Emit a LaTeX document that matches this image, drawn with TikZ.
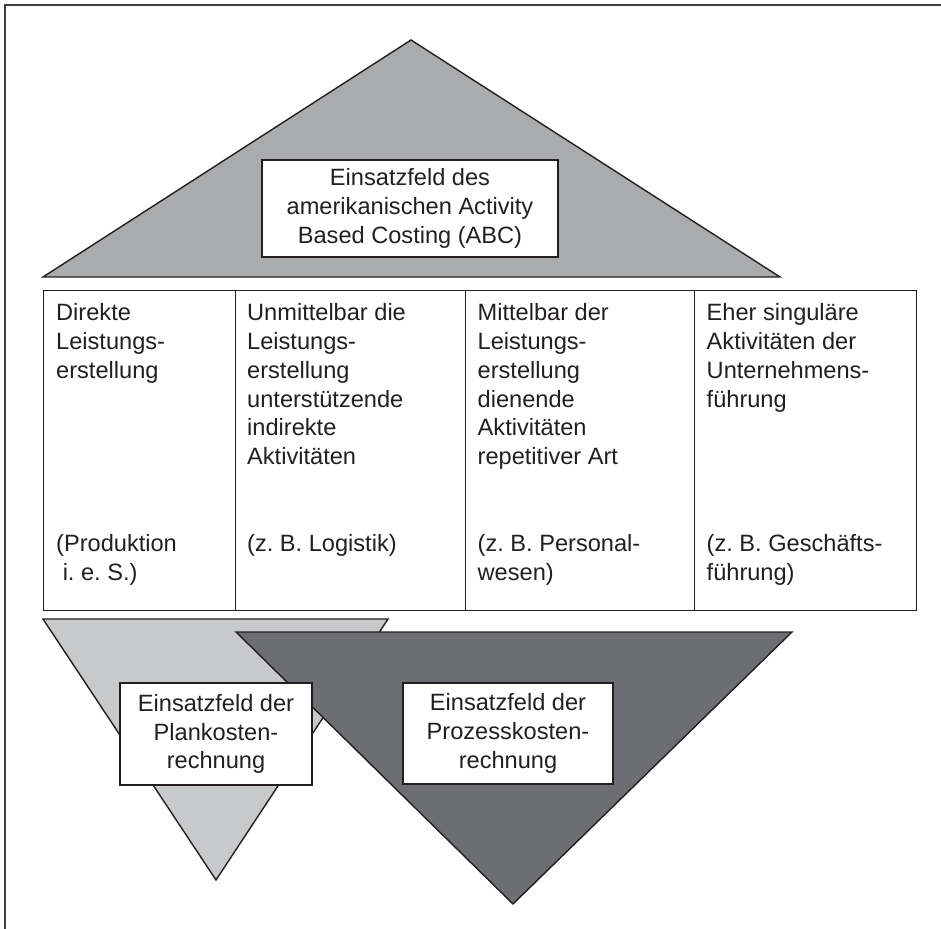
\documentclass[tikz,border=0pt]{standalone}
\usepackage{fontspec}
\setmainfont{Liberation Sans}
\usepackage{tikz}
\usetikzlibrary{positioning}
\definecolor{tinte}{RGB}{35, 31, 32}
\definecolor{dachgrau}{RGB}{169, 171, 173}
\definecolor{hellgrau}{RGB}{200, 201, 203}
\definecolor{dunkelgrau}{RGB}{109, 110, 115}
\frenchspacing

\begin{document}
\begin{tikzpicture}[x=0.5pt, y=-0.5pt, line width=0.7pt, color=tinte,
    every node/.style={font=\fontsize{11.8}{14.4}\selectfont},
    feldbox/.style={draw=tinte, fill=white, inner sep=0pt, align=center},
    spalte/.style={draw=tinte, fill=white, inner sep=0pt, minimum height=160pt, anchor=north west},
    spaltentext/.style={inner sep=0pt, align=left, anchor=north west}]
    \useasboundingbox (0,0) rectangle (941,929);

    % Rahmen (nur oben und links)
    \draw[line width=1pt, black!75] (4.5,929) -- (4.5,5) -- (941,5);

    % Dach: Activity Based Costing
    \filldraw[fill=dachgrau, draw=tinte] (43,277) -- (411,40) -- (780,277) -- cycle;
    \node[feldbox, minimum width=148pt, minimum height=48.5pt] (abc) at (410,208.5) {Einsatzfeld des\\amerikanischen Activity\\Based Costing (ABC)};

    % Spalten
    \node[spalte, minimum width=96pt] (sp1) at (43,290) {};
    \node[spalte, minimum width=115pt] (sp2) at (235,290) {};
    \node[spalte, minimum width=114.5pt] (sp3) at (465,290) {};
    \node[spalte, minimum width=111pt] (sp4) at (694,290) {};

    \node[spaltentext] (sp1oben) at (55.5,303) {Direkte\\Leistungs-\\erstellung};
    \node[spaltentext] (sp2oben) at (246.5,303) {Unmittelbar die\\Leistungs-\\erstellung\\unterstützende\\indirekte\\Aktivitäten};
    \node[spaltentext] (sp3oben) at (477,303) {Mittelbar der\\Leistungs-\\erstellung\\dienende\\Aktivitäten\\repetitiver Art};
    \node[spaltentext] (sp4oben) at (706,303) {Eher singuläre\\Aktivitäten der\\Unternehmens-\\führung};

    \node[spaltentext] (sp1unten) at (55.5,534) {(Produktion\\\ i. e. S.)};
    \node[spaltentext] (sp2unten) at (246.5,534) {(z. B. Logistik)};
    \node[spaltentext] (sp3unten) at (477,534) {(z. B. Personal-\\wesen)};
    \node[spaltentext] (sp4unten) at (706,534) {(z. B. Geschäfts-\\führung)};

    % Trichter: Plankosten- und Prozesskostenrechnung
    \filldraw[fill=hellgrau, draw=tinte] (43,619) -- (388,619) -- (216,880) -- cycle;
    \filldraw[fill=dunkelgrau, draw=tinte] (236,632) -- (792,632) -- (513,904) -- cycle;
    \node[feldbox, minimum width=96pt, minimum height=51pt] (plan) at (216,734) {Einsatzfeld der\\Plankosten-\\rechnung};
    \node[feldbox, minimum width=105pt, minimum height=50.5pt] (prozess) at (508,733.5) {Einsatzfeld der\\Prozesskosten-\\rechnung};
\end{tikzpicture}
\end{document}
